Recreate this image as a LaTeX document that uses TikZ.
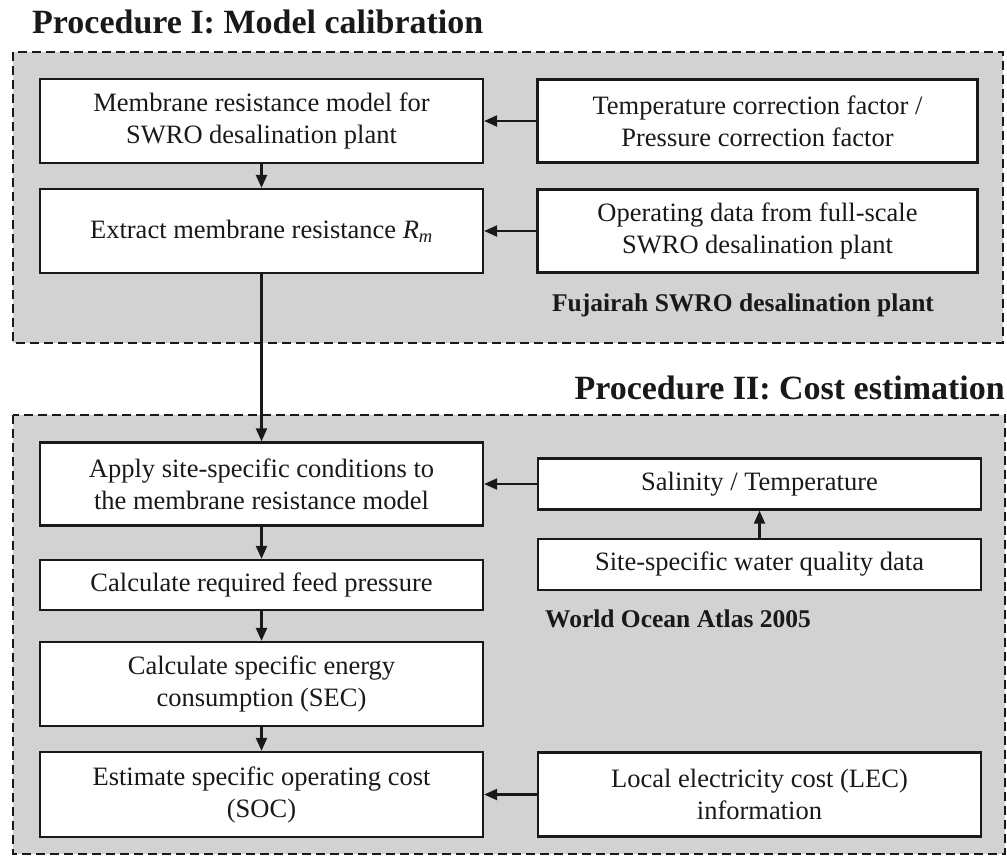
\documentclass[tikz,border=0pt]{standalone}
\usepackage{fontspec}
\setmainfont{Liberation Serif}
\usetikzlibrary{arrows.meta}
\definecolor{panelgray}{RGB}{210,210,210}
\definecolor{ink}{RGB}{25,25,25}
\tikzset{
  panel/.style={draw=ink, fill=panelgray, line width=2pt, dash pattern=on 9pt off 5pt},
  box/.style={draw=ink, fill=white, line width=2.3pt, align=center, inner sep=0pt,
              font=\fontsize{26.5}{32}\selectfont, text=ink},
  widebox/.style={box, minimum width=443pt},
  rbox/.style={box, minimum width=440pt},
  title/.style={font=\fontsize{34}{40}\selectfont\bfseries, text=ink, inner sep=0pt},
  srclabel/.style={font=\fontsize{25.5}{30}\selectfont\bfseries, text=ink, inner sep=0pt},
  arr/.style={draw=ink, line width=2.2pt, -{Triangle[length=13pt,width=11pt]}}
}
\begin{document}
\begin{tikzpicture}[x=1pt,y=-1pt]
\useasboundingbox (0,0) rectangle (1007,855);
% panels
\draw[panel] (13,52) rectangle (1003,343);
\draw[panel] (13,415) rectangle (1005,854);
% titles
\node[title, anchor=base west] (t1) at (32,33) {Procedure I: Model calibration};
\node[title, anchor=base east] (t2) at (1005,399) {Procedure II: Cost estimation};
% Procedure I boxes
\node[widebox, minimum height=84pt] (A) at (261.5,121) {Membrane resistance model for\\SWRO desalination plant};
\node[widebox, minimum height=84pt] (B) at (261.5,231) {Extract membrane resistance \textit{R}\textsubscript{\textit{m}}};
\node[rbox, minimum height=83pt] (C) at (757.5,121) {Temperature correction factor /\\Pressure correction factor};
\node[rbox, minimum height=83pt] (D) at (757.5,231) {Operating data from full-scale\\SWRO desalination plant};
\node[srclabel, anchor=base] (fuj) at (743,311) {Fujairah SWRO desalination plant};
% Procedure II boxes
\node[widebox, minimum height=83pt] (E) at (261.5,484) {Apply site-specific conditions to\\the membrane resistance model};
\node[rbox, minimum width=443pt, minimum height=51pt] (F) at (759.5,484) {Salinity / Temperature};
\node[rbox, minimum width=443pt, minimum height=51pt] (G) at (759.5,564.5) {Site-specific water quality data};
\node[srclabel, anchor=base west] (woa) at (545,627) {World Ocean Atlas 2005};
\node[widebox, minimum height=50pt] (H) at (261.5,585) {Calculate required feed pressure};
\node[widebox, minimum height=84pt] (I) at (261.5,684) {Calculate specific energy\\consumption (SEC)};
\node[widebox, minimum height=85pt] (J) at (261.5,794.5) {Estimate specific operating cost\\(SOC)};
\node[rbox, minimum width=443pt, minimum height=84pt] (K) at (759.5,794.5) {Local electricity cost (LEC)\\information};
% connectors
\draw[arr] (C.west) -- (A.east);
\draw[arr] (A.south) -- (B.north);
\draw[arr] (D.west) -- (B.east);
\draw[arr] (B.south) -- (E.north);
\draw[arr] (F.west) -- (E.east);
\draw[arr] (G.north) -- (F.south);
\draw[arr] (E.south) -- (H.north);
\draw[arr] (H.south) -- (I.north);
\draw[arr] (I.south) -- (J.north);
\draw[arr] (K.west) -- (J.east);
\end{tikzpicture}
\end{document}
